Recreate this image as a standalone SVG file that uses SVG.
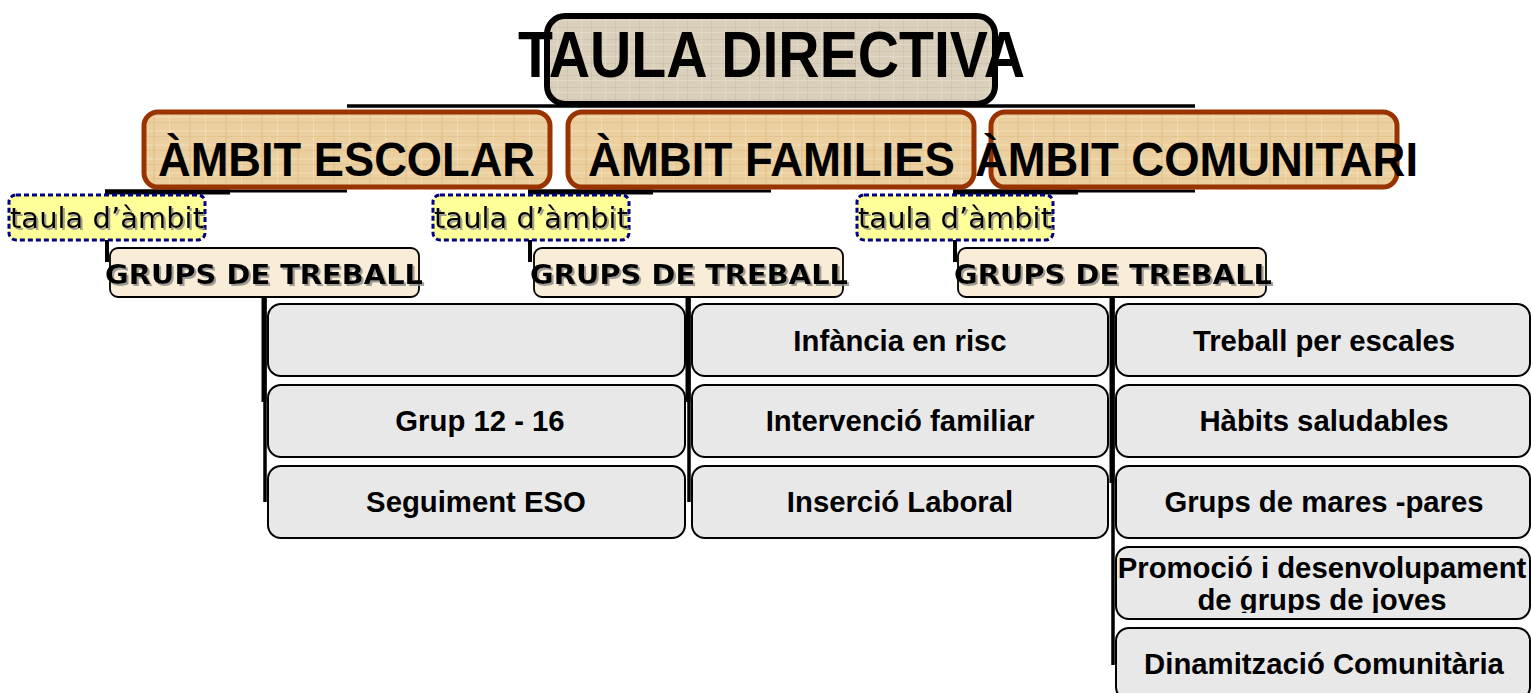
<svg xmlns="http://www.w3.org/2000/svg" width="1531" height="693" viewBox="0 0 1531 693">
<defs>
<pattern id="burlap" width="24" height="12" patternUnits="userSpaceOnUse">
<rect width="24" height="12" fill="#d9cfbb"/>
<rect x="0" y="3" width="24" height="1" fill="#c9bea8" opacity="0.6"/>
<rect x="5" y="0" width="1" height="12" fill="#e6ddcb" opacity="0.7"/>
<rect x="15" y="0" width="1" height="12" fill="#c4b8a0" opacity="0.5"/>
<rect x="0" y="8" width="24" height="1" fill="#e8e0d0" opacity="0.6"/>
</pattern>
<pattern id="parch" width="36" height="14" patternUnits="userSpaceOnUse">
<rect width="36" height="14" fill="#ebcf9f"/>
<rect x="0" y="4" width="36" height="2" fill="#f2dbb2" opacity="0.7"/>
<rect x="9" y="0" width="2" height="14" fill="#dfbe88" opacity="0.5"/>
<rect x="25" y="0" width="1" height="14" fill="#f5e1bd" opacity="0.7"/>
<rect x="0" y="10" width="36" height="1" fill="#dcbc86" opacity="0.5"/>
</pattern>
<filter id="sh" x="-5%" y="-20%" width="110%" height="140%">
<feDropShadow dx="2" dy="2" stdDeviation="0.6" flood-color="#888" flood-opacity="0.8"/>
</filter>
<clipPath id="clipRow4"><rect x="1116" y="547" width="415" height="66"/></clipPath>
</defs>
<style>
.ambit{fill:url(#parch);stroke:#993300;stroke-width:5}
.ambitTxt{font-family:"Liberation Sans",Arial,sans-serif;font-weight:bold;font-size:48px;fill:#000;text-anchor:middle}
.taula{fill:#ffff99;stroke:#000080;stroke-width:3;stroke-dasharray:5 3}
.taulaTxt{font-family:"DejaVu Sans",Verdana,sans-serif;font-size:28px;fill:#000}
.grups{fill:#faedd8;stroke:#000;stroke-width:1.8}
.grupsTxt{font-family:"DejaVu Sans",Verdana,sans-serif;font-weight:bold;font-size:26px;fill:#000}
.item{fill:#e8e8e8;stroke:#000;stroke-width:2}
.itemTxt{font-family:"Liberation Sans",Arial,sans-serif;font-weight:bold;font-size:29.3px;fill:#000;text-anchor:middle}
.con{stroke:#000;fill:none}
</style>
<rect width="1531" height="693" fill="#fff"/>

<g id="connectors">
<line class="con" x1="347" y1="106" x2="1195" y2="106" stroke-width="3.5"/>
<line class="con" x1="105" y1="191" x2="347" y2="191" stroke-width="3"/>
<line class="con" x1="105" y1="192" x2="230" y2="192" stroke-width="5"/>
<line class="con" x1="528" y1="191" x2="771" y2="191" stroke-width="3"/>
<line class="con" x1="528" y1="192" x2="653" y2="192" stroke-width="5"/>
<line class="con" x1="953" y1="191" x2="1195" y2="191" stroke-width="3"/>
<line class="con" x1="953" y1="192" x2="1078" y2="192" stroke-width="5"/>
<line class="con" x1="107" y1="191" x2="107" y2="262" stroke-width="4"/>
<line class="con" x1="530" y1="191" x2="530" y2="262" stroke-width="4"/>
<line class="con" x1="955" y1="191" x2="955" y2="262" stroke-width="4"/>
<line class="con" x1="265" y1="297" x2="265" y2="502" stroke-width="3.5"/>
<line class="con" x1="264" y1="297" x2="264" y2="402" stroke-width="5"/>
<line class="con" x1="689" y1="297" x2="689" y2="502" stroke-width="3.5"/>
<line class="con" x1="688" y1="297" x2="688" y2="402" stroke-width="5"/>
<line class="con" x1="1113" y1="297" x2="1113" y2="665" stroke-width="3.5"/>
<line class="con" x1="1112" y1="297" x2="1112" y2="483" stroke-width="5"/>
</g>

<g id="taula-directiva">
<rect x="547" y="16" width="448" height="88" rx="18" fill="url(#burlap)" stroke="#000" stroke-width="6"/>
<text x="771.5" y="77" font-family="'Liberation Sans',Arial,sans-serif" font-weight="bold" font-size="64" text-anchor="middle" textLength="507" lengthAdjust="spacingAndGlyphs">TAULA DIRECTIVA</text>
</g>

<g id="ambit-escolar">
<rect class="ambit" x="144" y="112" width="406" height="75" rx="14"/>
<text class="ambitTxt" x="346.5" y="176" textLength="377" lengthAdjust="spacingAndGlyphs">ÀMBIT ESCOLAR</text>
</g>
<g id="ambit-families">
<rect class="ambit" x="568" y="112" width="406" height="75" rx="14"/>
<text class="ambitTxt" x="771.5" y="176" textLength="367" lengthAdjust="spacingAndGlyphs">ÀMBIT FAMILIES</text>
</g>
<g id="ambit-comunitari">
<rect class="ambit" x="991" y="112" width="406" height="75" rx="14"/>
<text class="ambitTxt" x="1196.5" y="176" textLength="443" lengthAdjust="spacingAndGlyphs">ÀMBIT COMUNITARI</text>
</g>

<g id="taula-escolar">
<rect class="taula" x="9" y="195" width="196" height="45" rx="7"/>
<text class="taulaTxt" x="10" y="228" textLength="194" lengthAdjust="spacingAndGlyphs" filter="url(#sh)">taula d’àmbit</text>
</g>
<g id="taula-families">
<rect class="taula" x="433" y="195" width="196" height="45" rx="7"/>
<text class="taulaTxt" x="434" y="228" textLength="194" lengthAdjust="spacingAndGlyphs" filter="url(#sh)">taula d’àmbit</text>
</g>
<g id="taula-comunitari">
<rect class="taula" x="857" y="195" width="196" height="45" rx="7"/>
<text class="taulaTxt" x="858" y="228" textLength="194" lengthAdjust="spacingAndGlyphs" filter="url(#sh)">taula d’àmbit</text>
</g>

<g id="grups-escolar">
<rect class="grups" x="110" y="248" width="309" height="49" rx="8"/>
<text class="grupsTxt" x="105" y="284" textLength="318" lengthAdjust="spacingAndGlyphs" filter="url(#sh)">GRUPS DE TREBALL</text>
</g>
<g id="grups-families">
<rect class="grups" x="534" y="248" width="309" height="49" rx="8"/>
<text class="grupsTxt" x="530" y="284" textLength="318" lengthAdjust="spacingAndGlyphs" filter="url(#sh)">GRUPS DE TREBALL</text>
</g>
<g id="grups-comunitari">
<rect class="grups" x="958" y="248" width="308" height="49" rx="8"/>
<text class="grupsTxt" x="954" y="284" textLength="318" lengthAdjust="spacingAndGlyphs" filter="url(#sh)">GRUPS DE TREBALL</text>
</g>

<g id="escolar-1"><rect class="item" x="268" y="304" width="417" height="72" rx="13"/></g>
<g id="escolar-2"><rect class="item" x="268" y="385" width="417" height="72" rx="13"/><text class="itemTxt" x="480" y="431">Grup 12 - 16</text></g>
<g id="escolar-3"><rect class="item" x="268" y="466" width="417" height="72" rx="13"/><text class="itemTxt" x="476" y="512">Seguiment ESO</text></g>

<g id="families-1"><rect class="item" x="692" y="304" width="416" height="72" rx="13"/><text class="itemTxt" x="900" y="351">Infància en risc</text></g>
<g id="families-2"><rect class="item" x="692" y="385" width="416" height="72" rx="13"/><text class="itemTxt" x="900" y="431">Intervenció familiar</text></g>
<g id="families-3"><rect class="item" x="692" y="466" width="416" height="72" rx="13"/><text class="itemTxt" x="900" y="512">Inserció Laboral</text></g>

<g id="comunitari-1"><rect class="item" x="1116" y="304" width="414" height="72" rx="13"/><text class="itemTxt" x="1324" y="351">Treball per escales</text></g>
<g id="comunitari-2"><rect class="item" x="1116" y="385" width="414" height="72" rx="13"/><text class="itemTxt" x="1324" y="431">Hàbits saludables</text></g>
<g id="comunitari-3"><rect class="item" x="1116" y="466" width="414" height="72" rx="13"/><text class="itemTxt" x="1324" y="512">Grups de mares -pares</text></g>
<g id="comunitari-4"><rect class="item" x="1116" y="547" width="414" height="72" rx="13"/>
<g clip-path="url(#clipRow4)"><text class="itemTxt" x="1322" y="578">Promoció i desenvolupament</text><text class="itemTxt" x="1322" y="610">de grups de joves</text></g></g>
<g id="comunitari-5"><rect class="item" x="1116" y="628" width="414" height="72" rx="13"/><text class="itemTxt" x="1324" y="674">Dinamització Comunitària</text></g>
</svg>
